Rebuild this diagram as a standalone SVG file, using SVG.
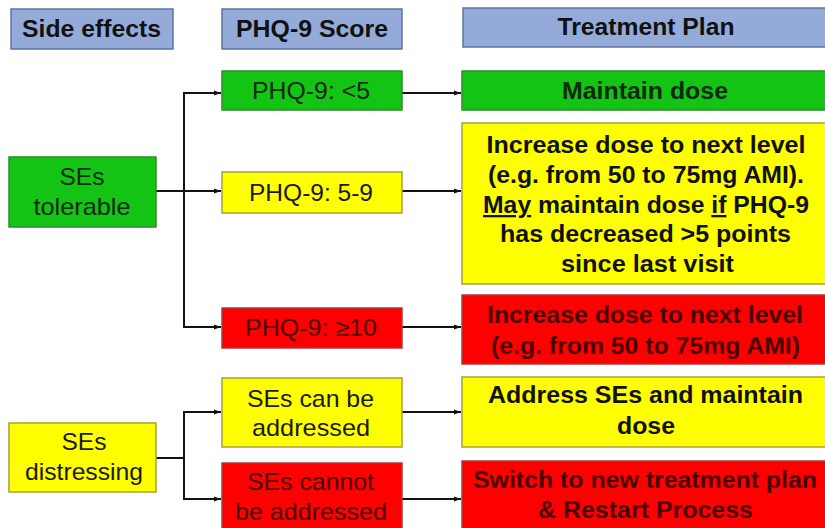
<svg xmlns="http://www.w3.org/2000/svg" width="825" height="528" viewBox="0 0 825 528">
<defs>
<marker id="ah" viewBox="0 0 10 10" refX="10" refY="5" markerWidth="7" markerHeight="7" orient="auto" markerUnits="userSpaceOnUse">
<path d="M0,1.5 L10,5 L0,8.5 z" fill="#111"/>
</marker>
<style>
.hdr{fill:#94ABD9;stroke:#5F739E;stroke-width:1.5}
.g{fill:#14C414;stroke:#2E8B2E;stroke-width:1.5}
.y{fill:#FFFF00;stroke:#A3A33A;stroke-width:1.5}
.r{fill:#FF0000;stroke:#A83A3A;stroke-width:1.5}
text{font-family:"Liberation Sans",Arial,sans-serif;text-anchor:middle}
.ht{font-size:23px;font-weight:bold;fill:#111}
.nt{font-size:24px;fill:#1a1a1a}
.bt{font-size:23px;font-weight:bold;fill:#111}
.rt{fill:#4a0000}
.gt{fill:#0d2a0d}
.u{text-decoration:underline}
.c{fill:none;stroke:#111;stroke-width:2;marker-end:url(#ah)}
.l{fill:none;stroke:#111;stroke-width:2}
</style>
</defs>
<rect width="825" height="528" fill="#fff"/>

<g id="connectors">
<path class="c" d="M156,191 H221"/>
<path class="c" d="M184,191 V93 H221"/>
<path class="c" d="M184,191 V327 H221"/>
<path class="c" d="M402,93 H461"/>
<path class="c" d="M402,191 H461"/>
<path class="c" d="M402,327 H461"/>
<path class="l" d="M156,458 H184"/>
<path class="c" d="M184,458 V412 H221"/>
<path class="c" d="M184,458 V499 H221"/>
<path class="c" d="M402,412 H461"/>
<path class="c" d="M402,499 H461"/>
</g>

<g id="hdr-side-effects">
<rect class="hdr" x="11" y="9" width="162" height="40"/>
<text class="ht" x="91.5" y="37" textLength="139" lengthAdjust="spacingAndGlyphs">Side effects</text>
</g>
<g id="hdr-phq">
<rect class="hdr" x="222" y="9" width="180" height="40"/>
<text class="ht" x="312" y="37" textLength="152" lengthAdjust="spacingAndGlyphs">PHQ-9 Score</text>
</g>
<g id="hdr-plan">
<rect class="hdr" x="463" y="8" width="370" height="39"/>
<text class="ht" x="646" y="35" textLength="177" lengthAdjust="spacingAndGlyphs">Treatment Plan</text>
</g>

<g id="ses-tolerable">
<rect class="g" x="9" y="157" width="147" height="70"/>
<text class="nt gt" x="82" y="185" textLength="45" lengthAdjust="spacingAndGlyphs">SEs</text>
<text class="nt gt" x="82" y="215" textLength="97" lengthAdjust="spacingAndGlyphs">tolerable</text>
</g>

<g id="phq-lt5">
<rect class="g" x="222" y="71" width="180" height="39"/>
<text class="nt gt" x="311" y="99" textLength="118" lengthAdjust="spacingAndGlyphs">PHQ-9: &lt;5</text>
</g>
<g id="phq-5-9">
<rect class="y" x="222" y="172" width="180" height="41"/>
<text class="nt" x="311" y="201" textLength="124" lengthAdjust="spacingAndGlyphs">PHQ-9: 5-9</text>
</g>
<g id="phq-ge10">
<rect class="r" x="222" y="308" width="180" height="40"/>
<text class="nt rt" x="311" y="336" textLength="132" lengthAdjust="spacingAndGlyphs">PHQ-9: ≥10</text>
</g>

<g id="plan-maintain">
<rect class="g" x="462" y="71" width="370" height="39"/>
<text class="bt gt" x="645" y="99" textLength="166" lengthAdjust="spacingAndGlyphs">Maintain dose</text>
</g>
<g id="plan-increase-maybe">
<rect class="y" x="462" y="123" width="370" height="161"/>
<text class="bt" x="646" y="153" textLength="319" lengthAdjust="spacingAndGlyphs">Increase dose to next level</text>
<text class="bt" x="646" y="183" textLength="316" lengthAdjust="spacingAndGlyphs">(e.g. from 50 to 75mg AMI).</text>
<text class="bt" x="646" y="213" textLength="326" lengthAdjust="spacingAndGlyphs"><tspan class="u">May</tspan> maintain dose <tspan class="u">if</tspan> PHQ-9</text>
<text class="bt" x="645.5" y="242" textLength="291" lengthAdjust="spacingAndGlyphs">has decreased &gt;5 points</text>
<text class="bt" x="647.5" y="272" textLength="173" lengthAdjust="spacingAndGlyphs">since last visit</text>
</g>
<g id="plan-increase">
<rect class="r" x="462" y="295" width="370" height="69"/>
<text class="bt rt" x="645" y="323" textLength="316" lengthAdjust="spacingAndGlyphs">Increase dose to next level</text>
<text class="bt rt" x="645.5" y="354" textLength="309" lengthAdjust="spacingAndGlyphs">(e.g. from 50 to 75mg AMI)</text>
</g>

<g id="ses-distressing">
<rect class="y" x="9" y="423" width="147" height="69"/>
<text class="nt" x="84" y="450" textLength="45" lengthAdjust="spacingAndGlyphs">SEs</text>
<text class="nt" x="84" y="480" textLength="118" lengthAdjust="spacingAndGlyphs">distressing</text>
</g>
<g id="ses-can">
<rect class="y" x="222" y="378" width="180" height="69"/>
<text class="nt" x="310.5" y="407" textLength="127" lengthAdjust="spacingAndGlyphs">SEs can be</text>
<text class="nt" x="311" y="436" textLength="118" lengthAdjust="spacingAndGlyphs">addressed</text>
</g>
<g id="ses-cannot">
<rect class="r" x="222" y="463" width="180" height="75"/>
<text class="nt rt" x="310.5" y="490" textLength="127" lengthAdjust="spacingAndGlyphs">SEs cannot</text>
<text class="nt rt" x="311" y="520" textLength="152" lengthAdjust="spacingAndGlyphs">be addressed</text>
</g>
<g id="plan-address">
<rect class="y" x="462" y="377" width="370" height="70"/>
<text class="bt" x="645.5" y="403" textLength="315" lengthAdjust="spacingAndGlyphs">Address SEs and maintain</text>
<text class="bt" x="646" y="434" textLength="58" lengthAdjust="spacingAndGlyphs">dose</text>
</g>
<g id="plan-switch">
<rect class="r" x="462" y="461" width="370" height="80"/>
<text class="bt rt" x="645" y="488" textLength="344" lengthAdjust="spacingAndGlyphs">Switch to new treatment plan</text>
<text class="bt rt" x="645.5" y="518" textLength="215" lengthAdjust="spacingAndGlyphs">&amp; Restart Process</text>
</g>
</svg>
